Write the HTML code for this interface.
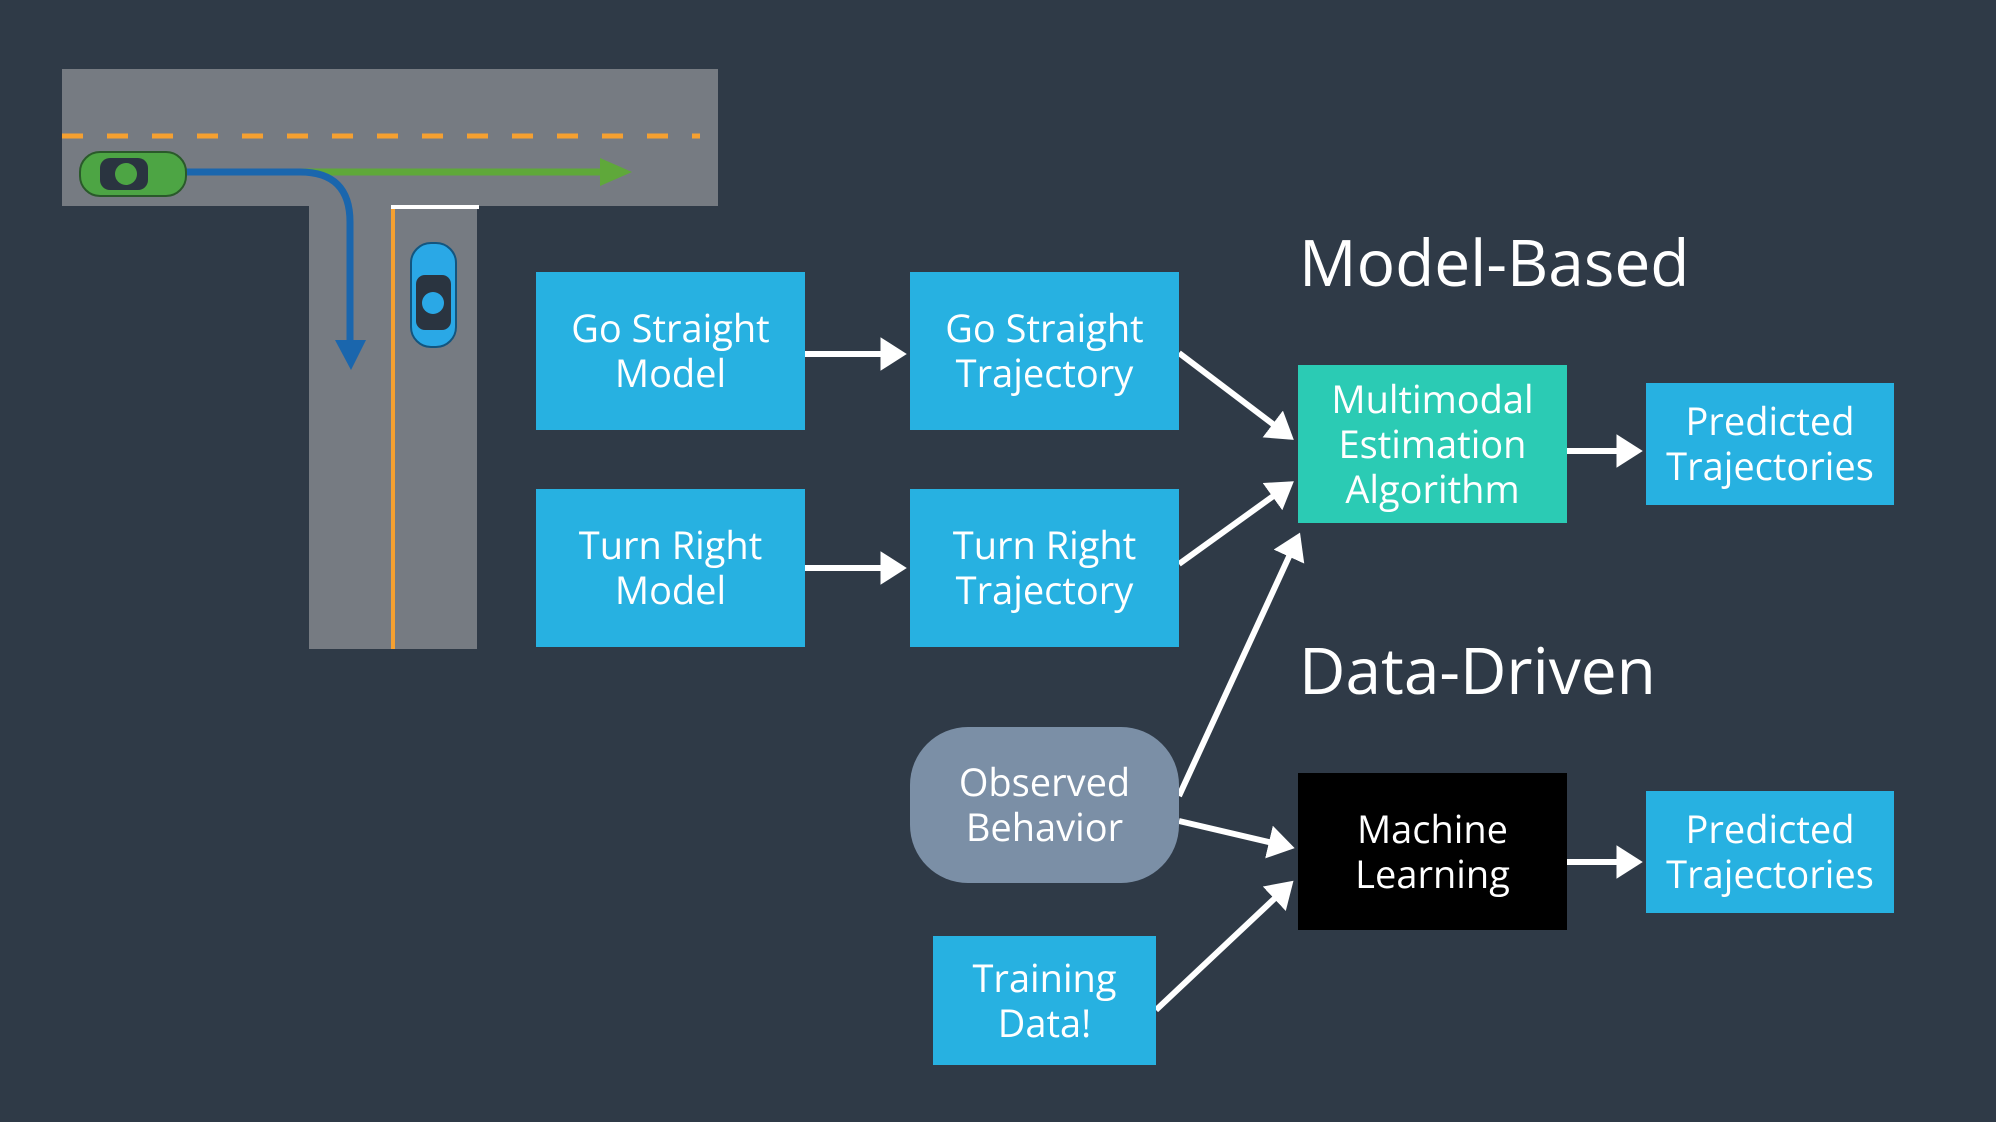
<!DOCTYPE html>
<html><head><meta charset="utf-8"><style>
html,body{margin:0;padding:0;background:#2f3a47;}
body{width:1996px;height:1122px;overflow:hidden;position:relative;font-family:"Open Sans","Liberation Sans",sans-serif;}
.b{position:absolute;display:flex;align-items:center;justify-content:center;text-align:center;color:#fff;font-size:38px;line-height:45px;background:#27b1e1;}
.t{position:absolute;color:#fff;font-size:64px;left:1299px;}
svg{position:absolute;left:0;top:0;}
</style></head><body>
<svg width="1996" height="1122" viewBox="0 0 1996 1122">
<defs>
<marker id="w" markerWidth="5" markerHeight="6" refX="3.6" refY="2.8" orient="auto" markerUnits="strokeWidth"><path d="M0,0 L4.4,2.8 L0,5.6 z" fill="#fff"/></marker>
</defs>
<rect x="62" y="69" width="656" height="137" fill="#767b82"/>
<rect x="309" y="206" width="168" height="443" fill="#767b82"/>
<line x1="62" y1="136" x2="700" y2="136" stroke="#f5a030" stroke-width="5" stroke-dasharray="21,24"/>
<line x1="393" y1="208" x2="393" y2="649" stroke="#f5a030" stroke-width="4"/>
<line x1="391" y1="207" x2="479" y2="207" stroke="#fff" stroke-width="4"/>
<line x1="180" y1="172" x2="605" y2="172" stroke="#5fa83a" stroke-width="7"/>
<path d="M600,158 L632,172 L600,186 z" fill="#5fa83a"/>
<path d="M180,172 L300,172 Q350,172 350,222 L350,345" fill="none" stroke="#1a66ad" stroke-width="7"/>
<path d="M335,340 L351,370 L366,340 z" fill="#1a66ad"/>
<g>
<rect x="80" y="152" width="106" height="44" rx="20" fill="#4da544" stroke="#2a5a2a" stroke-width="2"/>
<rect x="100" y="158" width="48" height="32" rx="10" fill="#2a3440"/>
<circle cx="126" cy="174" r="11" fill="#4da544"/>
</g>
<g>
<rect x="411" y="243" width="45" height="104" rx="20" fill="#2aa8e6" stroke="#13557f" stroke-width="2"/>
<rect x="416" y="275" width="35" height="55" rx="9" fill="#2a3440"/>
<circle cx="433" cy="303" r="11" fill="#2aa8e6"/>
</g>
<g stroke="#fff" stroke-width="6" fill="none" marker-end="url(#w)">
<line x1="805" y1="354" x2="902" y2="354"/>
<line x1="805" y1="568" x2="902" y2="568"/>
<line x1="1179" y1="353" x2="1290" y2="437"/>
<line x1="1179" y1="564" x2="1290" y2="484"/>
<line x1="1179" y1="796" x2="1298" y2="537"/>
<line x1="1179" y1="821" x2="1290" y2="847"/>
<line x1="1156" y1="1010" x2="1290" y2="884"/>
<line x1="1567" y1="451" x2="1638" y2="451"/>
<line x1="1567" y1="862" x2="1638" y2="862"/>
</g>
</svg>
<div class="b" style="left:536px;top:272px;width:269px;height:158px">Go Straight<br>Model</div>
<div class="b" style="left:910px;top:272px;width:269px;height:158px">Go Straight<br>Trajectory</div>
<div class="b" style="left:536px;top:489px;width:269px;height:158px">Turn Right<br>Model</div>
<div class="b" style="left:910px;top:489px;width:269px;height:158px">Turn Right<br>Trajectory</div>
<div class="b" style="left:1298px;top:365px;width:269px;height:158px;background:#2bcbb4">Multimodal<br>Estimation<br>Algorithm</div>
<div class="b" style="left:1646px;top:383px;width:248px;height:122px">Predicted<br>Trajectories</div>
<div class="b" style="left:910px;top:727px;width:269px;height:156px;background:#7b8fa6;border-radius:58px">Observed<br>Behavior</div>
<div class="b" style="left:1298px;top:773px;width:269px;height:157px;background:#000">Machine<br>Learning</div>
<div class="b" style="left:1646px;top:791px;width:248px;height:122px">Predicted<br>Trajectories</div>
<div class="b" style="left:933px;top:936px;width:223px;height:129px">Training<br>Data!</div>
<div class="t" style="top:218px">Model-Based</div>
<div class="t" style="top:626px">Data-Driven</div>
</body></html>
